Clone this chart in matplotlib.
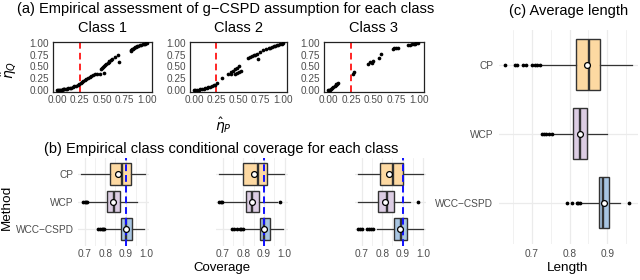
import matplotlib
matplotlib.use("Agg")
import matplotlib.pyplot as plt
from matplotlib.ticker import FixedLocator

plt.rcParams['font.family'] = ['Liberation Sans', 'DejaVu Sans']

# ---------------- data ----------------
classes = ["Class 1", "Class 2", "Class 3"]
methods = ["CP", "WCP", "WCC\u2212CSPD"]

# (a) scatter: eta_P vs eta_Q for each class
c1_x = [0.00, 0.01, 0.02, 0.03, 0.04, 0.05, 0.06, 0.07, 0.08, 0.10, 0.11, 0.12, 0.14, 0.15, 0.17, 0.19, 0.21, 0.23, 0.24,
        0.26, 0.27, 0.29, 0.31, 0.32, 0.34, 0.36, 0.37, 0.40, 0.42, 0.44, 0.48, 0.52,
        0.485, 0.50, 0.51, 0.52, 0.53, 0.545, 0.56, 0.57, 0.58, 0.60, 0.61, 0.64, 0.67, 0.69,
        0.82, 0.825, 0.83, 0.84, 0.85, 0.86, 0.875, 0.89, 0.90, 0.92, 0.93, 0.95, 0.96, 0.98, 0.99, 1.00]
c1_y = [0.00, 0.00, 0.00, 0.01, 0.01, 0.01, 0.02, 0.02, 0.02, 0.03, 0.03, 0.04, 0.05, 0.05, 0.06, 0.08, 0.09, 0.11, 0.12,
        0.16, 0.18, 0.20, 0.22, 0.23, 0.26, 0.28, 0.30, 0.32, 0.33, 0.34, 0.35, 0.37,
        0.44, 0.46, 0.49, 0.51, 0.54, 0.55, 0.58, 0.60, 0.62, 0.64, 0.66, 0.70, 0.74, 0.60,
        0.83, 0.85, 0.87, 0.88, 0.90, 0.91, 0.92, 0.93, 0.94, 0.95, 0.96, 0.97, 0.97, 0.98, 0.99, 1.00]

c2_x = [0.00, 0.01, 0.03, 0.05, 0.07, 0.09, 0.11, 0.12, 0.14, 0.16, 0.18, 0.20, 0.22, 0.23, 0.26,
        0.31, 0.38, 0.41, 0.42, 0.44, 0.46, 0.48, 0.50, 0.46, 0.48, 0.50, 0.53,
        0.61, 0.63, 0.65, 0.67, 0.69, 0.71, 0.72, 0.74, 0.78, 0.81, 0.84, 0.86, 0.88, 0.90,
        0.91, 0.93, 0.95, 0.97, 0.99, 1.00]
c2_y = [0.00, 0.00, 0.01, 0.01, 0.02, 0.02, 0.03, 0.04, 0.05, 0.06, 0.07, 0.08, 0.10, 0.11, 0.14,
        0.25, 0.33, 0.35, 0.38, 0.41, 0.44, 0.47, 0.51, 0.35, 0.36, 0.38, 0.41,
        0.67, 0.70, 0.72, 0.74, 0.75, 0.77, 0.65, 0.81, 0.85, 0.87, 0.89, 0.90, 0.92, 0.93,
        0.94, 0.95, 0.96, 0.97, 0.985, 1.00]

c3_x = [0.00, 0.01, 0.02, 0.03, 0.04, 0.055, 0.07, 0.08, 0.09, 0.10, 0.11,
        0.27, 0.28, 0.44, 0.46, 0.48, 0.49, 0.56, 0.58,
        0.71, 0.72, 0.74, 0.77, 0.88, 0.90, 0.92, 0.94, 0.95, 0.97, 0.99]
c3_y = [0.00, 0.00, 0.01, 0.02, 0.035, 0.07, 0.09, 0.10, 0.12, 0.13, 0.14,
        0.35, 0.39, 0.56, 0.60, 0.58, 0.62, 0.69, 0.77,
        0.88, 0.885, 0.89, 0.90, 0.95, 0.96, 0.97, 0.98, 0.985, 0.99, 1.00]

# (b) coverage box statistics  [class][method]
cov_whislo = [[0.682, 0.715, 0.800], [0.682, 0.700, 0.807], [0.683, 0.683, 0.773]]
cov_q1     = [[0.824, 0.807, 0.876], [0.799, 0.811, 0.880], [0.789, 0.781, 0.858]]
cov_med    = [[0.880, 0.845, 0.900], [0.869, 0.840, 0.900], [0.854, 0.825, 0.893]]
cov_q3     = [[0.924, 0.872, 0.929], [0.916, 0.877, 0.929], [0.903, 0.858, 0.920]]
cov_whishi = [[0.994, 0.954, 0.989], [0.999, 0.962, 0.994], [0.998, 0.935, 0.998]]
cov_mean   = [[0.864, 0.837, 0.900], [0.851, 0.840, 0.900], [0.835, 0.814, 0.887]]
cov_fliers = [[[], [0.694, 0.700, 0.705, 0.710], [0.767, 0.775, 0.783, 0.790, 0.796]],
              [[], [0.682, 0.688, 0.694, 0.978], [0.742, 0.755, 0.767, 0.783, 0.790, 0.797]],
              [[], [0.975], [0.683, 0.690, 0.700, 0.727, 0.735, 0.745, 0.757]]]

# (c) average length box statistics [method]
len_whislo = [0.725, 0.755, 0.832]
len_q1     = [0.816, 0.808, 0.877]
len_med    = [0.852, 0.828, 0.890]
len_q3     = [0.881, 0.845, 0.906]
len_whishi = [0.965, 0.899, 0.934]
len_mean   = [0.847, 0.828, 0.892]
len_fliers = [[0.628, 0.654, 0.659, 0.676, 0.685, 0.699, 0.708, 0.712, 0.721],
              [0.725, 0.732, 0.738, 0.745, 0.752],
              [0.792, 0.805, 0.819, 0.823, 0.828, 0.958]]

scatter_x = [c1_x, c2_x, c3_x]
scatter_y = [c1_y, c2_y, c3_y]
fills = ["#FDD9A2", "#DCCDE3", "#A8C5E2"]

# ---------------- figure ----------------
W, H = 640, 280
fig = plt.figure(figsize=(6.4, 2.8), dpi=100)
fig.patch.set_facecolor("white")


def px_axes(x0, y0, x1, y1):
    return fig.add_axes([x0 / W, 1 - y1 / H, (x1 - x0) / W, (y1 - y0) / H])


def ftext(x, y, s, **kw):
    fig.text(x / W, 1 - y / H, s, **kw)


TICK_C = "#4D4D4D"
EDGE = "#333333"
GRID = "#EBEBEB"

# ----- (a) -----
a_pos = [(52.7, 41.7, 151.7, 91.7), (189.7, 41.7, 287.3, 91.7), (323.7, 41.7, 423.7, 91.7)]
for i, pos in enumerate(a_pos):
    ax = px_axes(*pos)
    ax.scatter(scatter_x[i], scatter_y[i], s=7, color="black", linewidths=0, zorder=3)
    ax.axvline(0.25, color="red", ls=(0, (4, 2.5)), lw=1.2, zorder=2)
    ax.set_xlim(-0.05, 1.05)
    ax.set_ylim(-0.035, 1.025)
    ax.set_xticks([0, 0.25, 0.5, 0.75, 1.0])
    ax.set_xticklabels(["0.00", "0.25", "0.50", "0.75", "1.00"])
    ax.set_yticks([0, 0.25, 0.5, 0.75, 1.0])
    ax.set_yticklabels(["0.00", "0.25", "0.50", "0.75", "1.00"])
    ax.tick_params(length=0, labelsize=7.2, colors=TICK_C, pad=2.5)
    for sp in ax.spines.values():
        sp.set_color("#222222")
        sp.set_linewidth(0.9)
    ftext((pos[0] + pos[2]) / 2, 27.5, classes[i], ha="center", va="center", fontsize=10.5)

ftext(226, 8.5, "(a) Empirical assessment of g\u2212CSPD assumption for each class",
      ha="center", va="center", fontsize=10.5)
ftext(223, 126, r"$\hat{\eta}_P$", ha="center", va="center", fontsize=10)
ftext(9, 70, r"$\hat{\eta}_Q$", ha="center", va="center", fontsize=10, rotation=90)


def draw_box(ax, stats, width):
    bp = ax.bxp(stats, positions=[1, 2, 3], widths=width, orientation="horizontal",
                patch_artist=True, showmeans=True, showcaps=False,
                boxprops=dict(edgecolor=EDGE, linewidth=1.0),
                medianprops=dict(color=EDGE, linewidth=1.7),
                whiskerprops=dict(color=EDGE, linewidth=0.9),
                flierprops=dict(marker="o", markersize=1.7, markerfacecolor="black",
                                markeredgecolor="black", linestyle="none"),
                meanprops=dict(marker="o", markersize=4.2, markerfacecolor="white",
                               markeredgecolor="black", markeredgewidth=0.9))
    for patch, c in zip(bp["boxes"], fills):
        patch.set_facecolor(c)
    for m in bp["means"]:
        m.set_zorder(6)
    return bp


def style_minimal(ax, major, minor):
    for sp in ax.spines.values():
        sp.set_visible(False)
    ax.set_xticks(major)
    ax.xaxis.set_minor_locator(FixedLocator(minor))
    ax.set_yticks([1, 2, 3])
    ax.grid(True, which="major", color=GRID, lw=0.9)
    ax.grid(True, which="minor", axis="x", color=GRID, lw=0.5)
    ax.set_axisbelow(True)
    ax.tick_params(which="both", length=0, labelsize=7.3, colors=TICK_C)


# ----- (b) -----
b_pos = [(77.7, 157.5, 149.3, 245.5), (216.0, 157.5, 287.6, 245.5), (354.7, 157.5, 426.3, 245.5)]
for i, pos in enumerate(b_pos):
    ax = px_axes(*pos)
    stats = []
    for j in range(3):
        stats.append(dict(whislo=cov_whislo[i][j], q1=cov_q1[i][j], med=cov_med[i][j],
                          q3=cov_q3[i][j], whishi=cov_whishi[i][j], mean=cov_mean[i][j],
                          fliers=cov_fliers[i][j]))
    draw_box(ax, stats, 0.78)
    ax.axvline(0.9, color="#1010FF", ls=(0, (3.5, 2)), lw=1.4, zorder=5)
    ax.set_xlim(0.666, 1.015)
    ax.set_ylim(3.6, 0.4)
    style_minimal(ax, [0.7, 0.8, 0.9, 1.0], [0.75, 0.85, 0.95])
    ax.set_xticklabels(["0.7", "0.8", "0.9", "1.0"])
    ax.tick_params(axis="x", pad=2.5)
    if i == 0:
        ax.set_yticklabels(methods)
        ax.tick_params(axis="y", pad=3)
    else:
        ax.set_yticklabels([])

ftext(221, 148.5, "(b) Empirical class conditional coverage for each class",
      ha="center", va="center", fontsize=10.5)
ftext(222, 267.5, "Coverage", ha="center", va="center", fontsize=9.5)
ftext(7, 207, "Method", ha="center", va="center", fontsize=9.7, rotation=90)

# ----- (c) -----
ax = px_axes(498.7, 30, 638, 244)
stats = []
for j in range(3):
    stats.append(dict(whislo=len_whislo[j], q1=len_q1[j], med=len_med[j], q3=len_q3[j],
                      whishi=len_whishi[j], mean=len_mean[j], fliers=len_fliers[j]))
draw_box(ax, stats, 0.75)
ax.set_xlim(0.611, 0.982)
ax.set_ylim(3.6, 0.5)
style_minimal(ax, [0.7, 0.8, 0.9], [0.65, 0.75, 0.85, 0.95])
ax.set_xticklabels(["0.7", "0.8", "0.9"])
ax.set_yticklabels(methods)
ax.tick_params(axis="x", pad=3.5)
ax.tick_params(axis="y", pad=4)

ftext(569, 11, "(c) Average length", ha="center", va="center", fontsize=10.5)
ftext(568, 267.5, "Length", ha="center", va="center", fontsize=9.7)

fig.savefig("out.png", dpi=100, facecolor="white")
